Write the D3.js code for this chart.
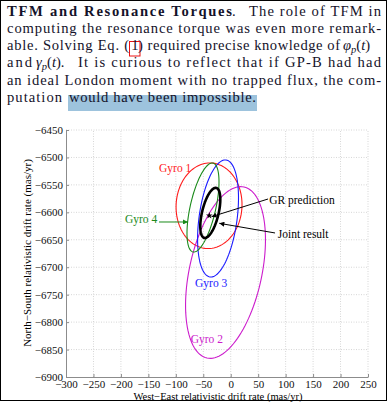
<!DOCTYPE html>
<html>
<head>
<meta charset="utf-8">
<script src="https://d3js.org/d3.v7.min.js"></script>
<style>
  body { margin: 0; background: #fff; }
  svg { display: block; }
  .para { font-family: 'Liberation Serif', serif; font-size: 14.6px; fill: #14122a; }
  .lbl { font-family: 'Liberation Serif', serif; font-size: 11.5px; }
</style>
</head>
<body>
<svg width="388" height="402"></svg>
<script>
// ellipse data: centre x, centre y, semi-major, semi-minor, tilt from vertical (deg)
var gyroNames = ["Gyro 1", "Gyro 2", "Gyro 3", "Gyro 4"];
var gyroColors = ["#ff1a1a", "#cc1ccc", "#1a1aff", "#1a8a1a"];
var gyroCx = [-39.5, -9.5, -23.1, -50.5];
var gyroCy = [-6588, -6709.6, -6611.2, -6591.2];
var gyroA = [78, 159.4, 107.5, 83];
var gyroB = [60, 66, 34.6, 23.3];
var gyroTilt = [3, 12.2, 7.8, 12.7];
// label positions (data units)
var gyroLabelX = [-130.6, -72.9, -65, -134];
var gyroLabelY = [-6526, -6838.5, -6735.4, -6619];
var gyroAnchor = ["start", "start", "start", "end"];

var joint = {cx: -37.2, cy: -6601, a: 46.8, b: 15, tilt: 13.5};
var grPrediction = [-39, -6606];

var xTicks = [-300, -250, -200, -150, -100, -50, 0, 50, 100, 150, 200, 250];
var yTicks = [-6900, -6850, -6800, -6750, -6700, -6650, -6600, -6550, -6500, -6450];

var svg = d3.select("svg");

// frame round the page
svg.append("rect").attr("x", 0.5).attr("y", 0.5).attr("width", 386).attr("height", 400)
  .attr("fill", "none").attr("stroke", "#000");

// paragraph
var para = svg.append("g").attr("class", "para");
para.append("rect").attr("x", 68).attr("y", 95).attr("width", 189).attr("height", 16)
  .attr("fill", "#9dc3dd");
para.append("rect").attr("x", 129.5).attr("y", 41.5).attr("width", 10.5).attr("height", 14.5)
  .attr("fill", "none").attr("stroke", "#ee1111").attr("stroke-width", 1);

function seg(txt, x, y, len, bold) {
  var t = para.append("text").attr("x", x).attr("y", y).text(txt);
  if (len) t.attr("textLength", len).attr("lengthAdjust", "spacing");
  if (bold) t.style("font-weight", "bold");
  return t;
}
function mathSeg(sym, x, y, tail) {
  var t = para.append("text").attr("x", x).attr("y", y);
  t.append("tspan").style("font-style", "italic").text(sym);
  t.append("tspan").attr("dy", 3).style("font-size", "10.5px").style("font-style", "italic").text("p");
  t.append("tspan").attr("dy", -3).text("(");
  t.append("tspan").style("font-style", "italic").text("t");
  t.append("tspan").text(")" + tail);
}
seg("TFM and Resonance Torques", 7, 15.7, 225, true);
seg(".", 232, 15.7);
seg("The role of TFM in", 249, 15.7, 132);
seg("computing the resonance torque was even more remark-", 7, 32.9, 374);
seg("able. Solving Eq. (", 7, 50.1, 122);
seg("1", 131.3, 50.1);
seg(") required precise knowledge of", 138, 50.1, 202);
mathSeg("φ", 343, 50.1, "");
seg("and", 7, 67.3, 25);
mathSeg("γ", 36, 67.3, ".");
seg("It is curious to reflect that if GP-B had had", 78, 67.3, 303);
seg("an ideal London moment with no trapped flux, the com-", 7, 84.5, 374);
seg("putation", 7, 101.7, 55);
seg("would have been impossible.", 69, 101.7, 187);

// chart
var x = d3.scaleLinear().domain([-300, 250]).range([66, 368]);
var y = d3.scaleLinear().domain([-6900, -6450]).range([377, 130]);

var grid = svg.append("g").attr("stroke", "#d6d6d6").attr("stroke-dasharray", "1,1.5");
grid.selectAll(".vx").data(xTicks.slice(1)).enter().append("line")
  .attr("x1", function (d) { return x(d); }).attr("x2", function (d) { return x(d); })
  .attr("y1", y(-6900)).attr("y2", y(-6450));
grid.selectAll(".hy").data(yTicks.slice(1)).enter().append("line")
  .attr("y1", function (d) { return y(d); }).attr("y2", function (d) { return y(d); })
  .attr("x1", x(-300)).attr("x2", x(250));

var fmt = function (d) { return d < 0 ? "\u2212" + Math.abs(d) : "" + d; };

var gx = svg.append("g").attr("transform", "translate(0," + y(-6900) + ")")
  .call(d3.axisBottom(x).tickValues(xTicks).tickFormat(fmt).tickSizeInner(-3).tickSizeOuter(0).tickPadding(3));
var gy = svg.append("g").attr("transform", "translate(" + x(-300) + ",0)")
  .call(d3.axisLeft(y).tickValues(yTicks).tickFormat(fmt).tickSizeInner(-3).tickSizeOuter(0).tickPadding(3));
svg.selectAll(".tick text")
  .style("font-family", "'Liberation Serif'").style("font-size", "11px").attr("fill", "#111");
svg.selectAll(".domain, .tick line").attr("stroke", "#8c8c8c");

// ellipses
function ellipsePath(cx, cy, a, b, tiltDeg) {
  var th = tiltDeg * Math.PI / 180, pts = [];
  for (var i = 0; i <= 120; i++) {
    var t = i / 120 * 2 * Math.PI;
    var u = b * Math.cos(t), v = a * Math.sin(t);
    // major axis vertical, tilted so its top leans right
    var dx = u * Math.cos(th) + v * Math.sin(th);
    var dy = -u * Math.sin(th) + v * Math.cos(th);
    pts.push([x(cx + dx), y(cy + dy)]);
  }
  return d3.line()(pts) + "Z";
}

gyroNames.forEach(function (n, i) {
  svg.append("path")
    .attr("d", ellipsePath(gyroCx[i], gyroCy[i], gyroA[i], gyroB[i], gyroTilt[i]))
    .attr("fill", "none").attr("stroke", gyroColors[i]).attr("stroke-width", 1.1);
});
svg.append("path")
  .attr("d", ellipsePath(joint.cx, joint.cy, joint.a, joint.b, joint.tilt))
  .attr("fill", "none").attr("stroke", "#000").attr("stroke-width", 2.6);

// GR prediction marker
svg.append("path").attr("d", d3.symbol(d3.symbolStar, 14)())
  .attr("transform", "translate(" + x(grPrediction[0]) + "," + y(grPrediction[1]) + ")")
  .attr("fill", "#000");

// labels
gyroNames.forEach(function (n, i) {
  svg.append("text").attr("class", "lbl")
    .attr("x", x(gyroLabelX[i])).attr("y", y(gyroLabelY[i]))
    .attr("text-anchor", gyroAnchor[i]).attr("fill", gyroColors[i]).text(n);
});

svg.append("defs").selectAll("marker").data(["blk", "grn"]).enter().append("marker")
  .attr("id", function (d) { return "ah-" + d; })
  .attr("viewBox", "0 0 10 10").attr("refX", 10).attr("refY", 5)
  .attr("markerWidth", 6).attr("markerHeight", 5).attr("markerUnits", "userSpaceOnUse")
  .attr("orient", "auto")
  .append("path").attr("d", "M0,0L10,5L0,10Z")
  .attr("fill", function (d) { return d === "blk" ? "#000" : "#1a8a1a"; });

function arrow(x1, y1, x2, y2, col, id) {
  svg.append("line").attr("x1", x(x1)).attr("y1", y(y1)).attr("x2", x(x2)).attr("y2", y(y2))
    .attr("stroke", col).attr("stroke-width", 1).attr("marker-end", "url(#ah-" + id + ")");
}
arrow(-130.6, -6617.6, -77.8, -6617.6, "#1a8a1a", "grn");
arrow(68, -6575.7, -35, -6608, "#000", "blk");
arrow(80.7, -6637.6, -20.8, -6620, "#000", "blk");

svg.append("text").attr("class", "lbl").attr("x", x(70)).attr("y", y(-6584.8)).text("GR prediction");
svg.append("text").attr("class", "lbl").attr("x", x(85.6)).attr("y", y(-6646.7)).text("Joint result");

// axis titles
svg.append("text").attr("class", "lbl").attr("text-anchor", "middle")
  .attr("x", 218).attr("y", 399.5).style("font-size", "10.5px")
  .text("West\u2212East relativistic drift rate (mas/yr)");
svg.append("text").attr("class", "lbl").attr("text-anchor", "middle")
  .attr("transform", "translate(31,253) rotate(-90)").style("font-size", "11px")
  .text("North\u2212South relativistic drift rate (mas/yr)");
</script>
</body>
</html>
